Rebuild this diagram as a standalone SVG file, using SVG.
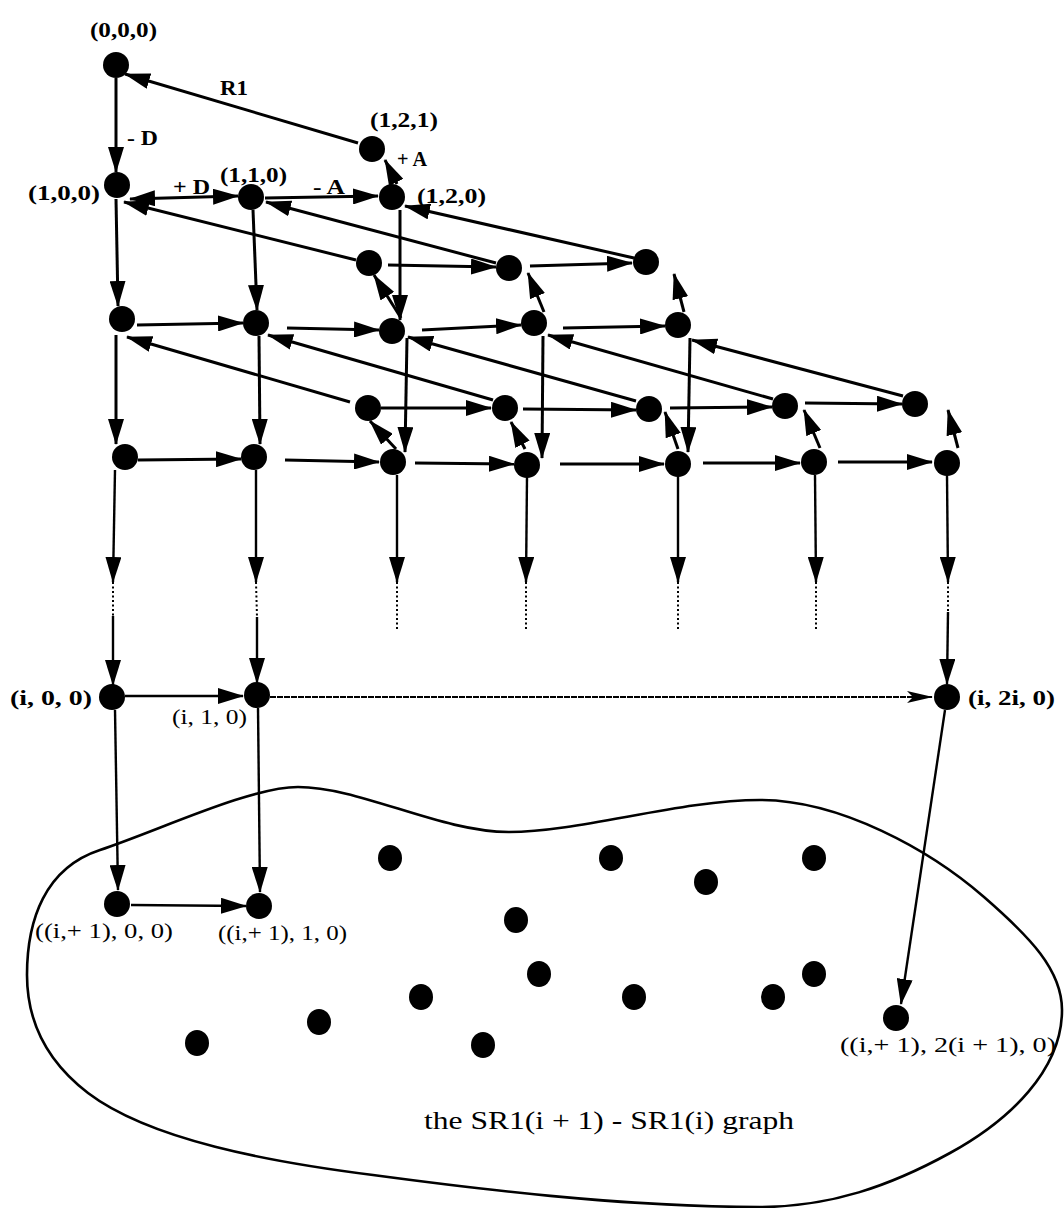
<svg xmlns="http://www.w3.org/2000/svg" width="1064" height="1208" viewBox="0 0 1064 1208">
<defs>
<marker id="ah" viewBox="0 0 26 16" markerWidth="26" markerHeight="16" refX="25" refY="8" orient="auto-start-reverse" markerUnits="userSpaceOnUse"><path d="M0,0 L26,8 L0,16 z" fill="#000"/></marker>
<marker id="ahs" viewBox="0 0 26 12" markerWidth="26" markerHeight="12" refX="25" refY="6" orient="auto" markerUnits="userSpaceOnUse"><path d="M0,0 L26,6 L0,12 L6,6 z" fill="#000"/></marker>
<style>
.e{stroke:#000;stroke-width:3;fill:none;marker-end:url(#ah)}
.t{stroke:#000;stroke-width:2.4;fill:none;marker-end:url(#ah)}
.d{stroke:#000;stroke-width:2;fill:none;stroke-dasharray:2,2.5}
.n{fill:#000}
text{font-family:"Liberation Serif","Times New Roman",serif;fill:#000}
.b{font-weight:bold;font-size:22px}
.r{font-size:22px}
</style>
</defs>
<rect width="1064" height="1208" fill="#fff"/>
<path id="blob" d="M27,975 C27,920 45,868 100,850 C160,830 250,787 298,787 C360,787 440,832 509,832 C580,832 680,800 760,800 C840,800 930,850 984,897 C1030,937 1062,970 1062,1010 C1062,1070 1010,1120 950,1153 C890,1186 830,1207 760,1207 C620,1207 470,1188 373,1175 C270,1162 150,1140 88,1093 C45,1060 27,1020 27,975 Z" fill="none" stroke="#000" stroke-width="2.6"/>
<g id="connectors">
<line class="e" x1="116" y1="78" x2="116" y2="172"/>
<line class="e" x1="358" y1="143" x2="125" y2="74"/>
<line class="e" x1="130" y1="199" x2="238" y2="196" style="marker-start:url(#ah)"/>
<line class="e" x1="265" y1="198" x2="378" y2="196"/>
<line class="e" x1="397" y1="184" x2="385" y2="160"/>
<line class="e" x1="356" y1="260" x2="124" y2="202"/>
<line class="e" x1="496" y1="263" x2="266" y2="202"/>
<line class="e" x1="634" y1="258" x2="405" y2="206"/>
<line class="e" x1="116" y1="199" x2="118" y2="306"/>
<line class="e" x1="253" y1="210" x2="257" y2="310"/>
<line class="e" x1="400" y1="210" x2="400" y2="320"/>
<line class="e" x1="388" y1="265" x2="496" y2="267"/>
<line class="e" x1="530" y1="266" x2="632" y2="263"/>
<line class="e" x1="401" y1="318" x2="374" y2="275"/>
<line class="e" x1="544" y1="312" x2="528" y2="273"/>
<line class="e" x1="684" y1="312" x2="674" y2="274"/>
<line class="e" x1="137" y1="325" x2="243" y2="323"/>
<line class="e" x1="287" y1="328" x2="379" y2="330"/>
<line class="e" x1="422" y1="330" x2="521" y2="325"/>
<line class="e" x1="563" y1="328" x2="665" y2="326"/>
<line class="e" x1="350" y1="402" x2="127" y2="337"/>
<line class="e" x1="493" y1="400" x2="268" y2="335"/>
<line class="e" x1="636" y1="401" x2="408" y2="337"/>
<line class="e" x1="773" y1="399" x2="548" y2="335"/>
<line class="e" x1="903" y1="396" x2="692" y2="340"/>
<line class="e" x1="116" y1="335" x2="116" y2="444"/>
<line class="e" x1="259" y1="336" x2="260" y2="444"/>
<line class="e" x1="407" y1="338" x2="405" y2="452"/>
<line class="e" x1="543" y1="336" x2="542" y2="458"/>
<line class="e" x1="690" y1="338" x2="688" y2="452"/>
<line class="e" x1="381" y1="408" x2="491" y2="408"/>
<line class="e" x1="523" y1="409" x2="636" y2="410"/>
<line class="e" x1="670" y1="408" x2="772" y2="407"/>
<line class="e" x1="805" y1="403" x2="902" y2="404"/>
<line class="e" x1="396" y1="449" x2="370" y2="421"/>
<line class="e" x1="525" y1="449" x2="511" y2="422"/>
<line class="e" x1="678" y1="449" x2="665" y2="412"/>
<line class="e" x1="820" y1="448" x2="804" y2="410"/>
<line class="e" x1="958" y1="448" x2="948" y2="410"/>
<line class="e" x1="138" y1="460" x2="241" y2="459"/>
<line class="e" x1="285" y1="460" x2="379" y2="462"/>
<line class="e" x1="415" y1="463" x2="514" y2="464"/>
<line class="e" x1="560" y1="464" x2="664" y2="464"/>
<line class="e" x1="703" y1="463" x2="800" y2="463"/>
<line class="e" x1="838" y1="462" x2="932" y2="462"/>
<line class="t" x1="115" y1="470" x2="113" y2="582"/>
<line class="t" x1="256" y1="470" x2="256" y2="582"/>
<line class="t" x1="397" y1="475" x2="397" y2="582"/>
<line class="t" x1="527" y1="477" x2="526" y2="582"/>
<line class="t" x1="678" y1="476" x2="678" y2="582"/>
<line class="t" x1="815" y1="475" x2="816" y2="582"/>
<line class="t" x1="947" y1="475" x2="948" y2="582"/>
<line class="d" x1="113" y1="582" x2="113" y2="616"/>
<line class="d" x1="256" y1="582" x2="257" y2="617"/>
<line class="d" x1="397" y1="582" x2="397" y2="630"/>
<line class="d" x1="526" y1="582" x2="526" y2="630"/>
<line class="d" x1="678" y1="582" x2="678" y2="630"/>
<line class="d" x1="816" y1="582" x2="816" y2="630"/>
<line class="d" x1="948" y1="582" x2="948" y2="612"/>
<line class="t" x1="113" y1="616" x2="113" y2="685"/>
<line class="t" x1="257" y1="617" x2="257" y2="683"/>
<line class="t" x1="948" y1="612" x2="947" y2="684"/>
<line class="t" x1="125" y1="696" x2="243" y2="696"/>
<line x1="270" y1="697" x2="932" y2="697" stroke="#000" stroke-width="2" stroke-dasharray="6,1" style="marker-end:url(#ahs)"/>
<line class="t" x1="115" y1="710" x2="118" y2="890"/>
<line class="t" x1="258" y1="708" x2="260" y2="892"/>
<line class="t" x1="131" y1="905" x2="246" y2="906"/>
<line class="t" x1="945" y1="710" x2="901" y2="1004"/>
</g>
<g id="nodes">
<g id="n000"><circle class="n" cx="116" cy="65" r="13"/><text class="b" x="90" y="37" textLength="67" lengthAdjust="spacingAndGlyphs">(0,0,0)</text></g>
<g id="n121"><circle class="n" cx="372" cy="149" r="13"/><text class="b" x="370" y="127" textLength="68" lengthAdjust="spacingAndGlyphs">(1,2,1)</text></g>
<g id="n100"><circle class="n" cx="117" cy="185" r="13"/><text class="b" x="28" y="200" textLength="72" lengthAdjust="spacingAndGlyphs">(1,0,0)</text></g>
<g id="n110"><circle class="n" cx="251" cy="197" r="13"/><text class="b" x="220" y="182" textLength="67" lengthAdjust="spacingAndGlyphs">(1,1,0)</text></g>
<g id="n120"><circle class="n" cx="392" cy="197" r="13"/><text class="b" x="417" y="203" textLength="69" lengthAdjust="spacingAndGlyphs">(1,2,0)</text></g>
<g id="r2a"><circle class="n" cx="369" cy="263" r="13"/></g>
<g id="r2b"><circle class="n" cx="509" cy="268" r="13"/></g>
<g id="r2c"><circle class="n" cx="646" cy="262" r="13"/></g>
<g id="r3a"><circle class="n" cx="122" cy="319" r="13"/></g>
<g id="r3b"><circle class="n" cx="256" cy="323" r="13"/></g>
<g id="r3c"><circle class="n" cx="392" cy="331" r="13"/></g>
<g id="r3d"><circle class="n" cx="534" cy="323" r="13"/></g>
<g id="r3e"><circle class="n" cx="678" cy="325" r="13"/></g>
<g id="r4a"><circle class="n" cx="368" cy="408" r="13"/></g>
<g id="r4b"><circle class="n" cx="505" cy="408" r="13"/></g>
<g id="r4c"><circle class="n" cx="649" cy="409" r="13"/></g>
<g id="r4d"><circle class="n" cx="785" cy="406" r="13"/></g>
<g id="r4e"><circle class="n" cx="915" cy="404" r="13"/></g>
<g id="r5a"><circle class="n" cx="125" cy="457" r="13"/></g>
<g id="r5b"><circle class="n" cx="254" cy="457" r="13"/></g>
<g id="r5c"><circle class="n" cx="393" cy="462" r="13"/></g>
<g id="r5d"><circle class="n" cx="527" cy="465" r="13"/></g>
<g id="r5e"><circle class="n" cx="678" cy="464" r="13"/></g>
<g id="r5f"><circle class="n" cx="814" cy="462" r="13"/></g>
<g id="r5g"><circle class="n" cx="947" cy="463" r="13"/></g>
<g id="ni00"><circle class="n" cx="112" cy="697" r="13"/><text class="b" x="10" y="705" textLength="82" lengthAdjust="spacingAndGlyphs">(i, 0, 0)</text></g>
<g id="ni10"><circle class="n" cx="257" cy="695" r="13"/><text class="r" x="172" y="724" textLength="75" lengthAdjust="spacingAndGlyphs">(i, 1, 0)</text></g>
<g id="ni2i"><circle class="n" cx="947" cy="697" r="13"/><text class="b" x="968" y="705" textLength="87" lengthAdjust="spacingAndGlyphs">(i, 2i, 0)</text></g>
<g id="b00"><circle class="n" cx="117" cy="904" r="13"/><text class="r" x="35" y="938" textLength="138" lengthAdjust="spacingAndGlyphs">((i,+ 1), 0, 0)</text></g>
<g id="b10"><circle class="n" cx="259" cy="906" r="13"/><text class="r" x="218" y="940" textLength="129" lengthAdjust="spacingAndGlyphs">((i,+ 1), 1, 0)</text></g>
<g id="b2"><ellipse class="n" cx="896" cy="1018" rx="13" ry="13"/><text class="r" x="840" y="1052" textLength="216" lengthAdjust="spacingAndGlyphs">((i,+ 1), 2(i + 1), 0)</text></g>
<g id="blobdots">
<ellipse class="n" cx="390" cy="858" rx="12" ry="13"/>
<ellipse class="n" cx="611" cy="858" rx="12" ry="13"/>
<ellipse class="n" cx="814" cy="858" rx="12" ry="13"/>
<ellipse class="n" cx="706" cy="882" rx="12" ry="13"/>
<ellipse class="n" cx="516" cy="920" rx="12" ry="13"/>
<ellipse class="n" cx="539" cy="974" rx="12" ry="13"/>
<ellipse class="n" cx="814" cy="974" rx="12" ry="13"/>
<ellipse class="n" cx="421" cy="997" rx="12" ry="13"/>
<ellipse class="n" cx="634" cy="997" rx="12" ry="13"/>
<ellipse class="n" cx="773" cy="997" rx="12" ry="13"/>
<ellipse class="n" cx="319" cy="1022" rx="12" ry="13"/>
<ellipse class="n" cx="197" cy="1043" rx="12" ry="13"/>
<ellipse class="n" cx="483" cy="1045" rx="12" ry="13"/>
</g>
</g>
<g id="labels">
<text class="b" x="220" y="95" textLength="28" lengthAdjust="spacingAndGlyphs">R1</text>
<text class="b" x="127" y="145" textLength="31" lengthAdjust="spacingAndGlyphs">- D</text>
<text class="b" x="397" y="166" textLength="30" lengthAdjust="spacingAndGlyphs">+ A</text>
<text class="b" x="173" y="194" textLength="37" lengthAdjust="spacingAndGlyphs">+ D</text>
<text class="b" x="313" y="194" textLength="32" lengthAdjust="spacingAndGlyphs">- A</text>
<text x="424" y="1129" font-size="25" textLength="370" lengthAdjust="spacingAndGlyphs">the SR1(i + 1) - SR1(i) graph</text>
</g>
</svg>
